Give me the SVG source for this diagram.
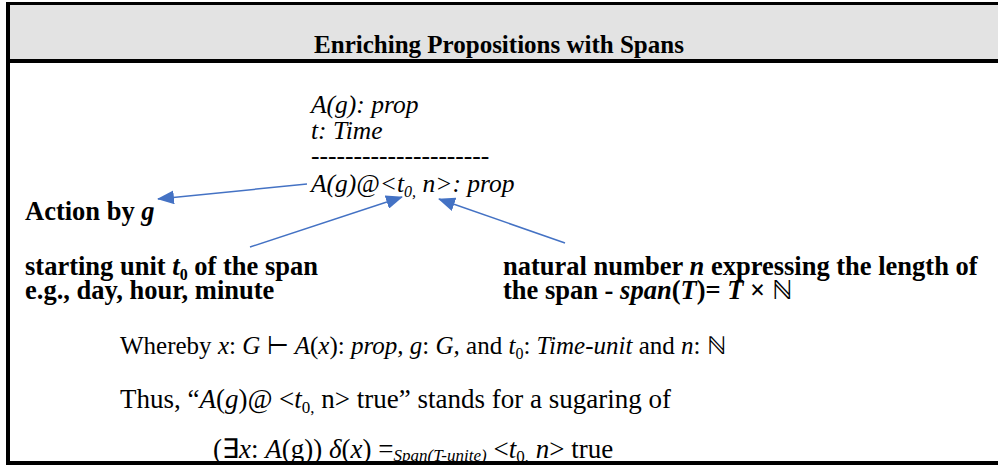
<svg xmlns="http://www.w3.org/2000/svg" width="998" height="466" viewBox="0 0 998 466">
<style>
.t{font-family:"Liberation Serif","Times New Roman",serif;fill:#000}
.r{font-size:25px}
.l{font-size:27px}
.b{font-size:26.5px;font-weight:bold}
.h{font-size:25px;font-weight:bold}
.f{font-size:25.5px}
.i{font-style:italic}
.s{font-size:16px}
.s2{font-size:17px}
.con{stroke:#4472C4;stroke-width:1.5;fill:none;marker-end:url(#ah)}
</style>
<defs>
<marker id="ah" markerUnits="userSpaceOnUse" markerWidth="18" markerHeight="14" refX="16" refY="7" orient="auto">
<path d="M0,0 L17,7 L0,14 z" fill="#4472C4"/>
</marker>
</defs>
<rect x="0" y="0" width="998" height="466" fill="#fff"/>
<g id="frame">
<rect x="10" y="5" width="988" height="54" fill="#E3E3E3"/>
<rect x="6" y="2" width="992" height="3" fill="#000"/>
<rect x="6" y="2" width="4" height="463" fill="#000"/>
<rect x="6" y="59" width="992" height="4" fill="#000"/>
<rect x="6" y="461" width="992" height="4" fill="#000"/>
</g>
<g id="title"><text class="t h" x="499" y="53" text-anchor="middle">Enriching Propositions with Spans</text></g>
<g id="formula">
<text class="t f i" x="311" y="113">A(g): prop</text>
<text class="t f i" x="311" y="139">t: Time</text>
<text class="t f" x="311" y="164">---------------------</text>
<text class="t f i" x="311" y="192">A(g)@&lt;t<tspan class="s" dy="5">0,</tspan><tspan dy="-5"> n&gt;: prop</tspan></text>
</g>
<g id="action"><text class="t b" x="25" y="220">Action by <tspan class="i">g</tspan></text></g>
<g id="start">
<text class="t b" x="25" y="275">starting unit <tspan class="i">t</tspan><tspan class="s" dy="5">0</tspan><tspan dy="-5"> of the span</tspan></text>
<text class="t b" x="25" y="299">e.g., day, hour, minute</text>
</g>
<g id="natural">
<text class="t b" x="503" y="275">natural number <tspan class="i">n</tspan> expressing the length of</text>
<text class="t b" x="503" y="299">the span - <tspan class="i">span</tspan>(<tspan class="i">T</tspan>)= <tspan class="i">T</tspan> × <tspan font-weight="normal">ℕ</tspan></text>
</g>
<g id="whereby"><text class="t r" x="120" y="354">Whereby <tspan class="i">x</tspan>: <tspan class="i">G</tspan> ⊢ <tspan class="i">A</tspan>(<tspan class="i">x</tspan>): <tspan class="i">prop, g</tspan>: <tspan class="i">G,</tspan> and <tspan class="i">t</tspan><tspan class="s" dy="5">0</tspan><tspan dy="-5">: </tspan><tspan class="i">Time-unit</tspan> and <tspan class="i">n</tspan>: ℕ</text></g>
<g id="thus"><text class="t l" x="120" y="408">Thus, “<tspan class="i">A</tspan>(<tspan class="i">g</tspan>)<tspan class="i">@</tspan> &lt;<tspan class="i">t</tspan><tspan class="s2" dy="5">0,</tspan><tspan dy="-5"> n&gt; true” stands for a sugaring of</tspan></text></g>
<g id="exists"><text class="t l" x="213" y="458">(∃<tspan class="i">x</tspan>: <tspan class="i">A</tspan>(g)) <tspan class="i">δ</tspan>(<tspan class="i">x</tspan>) =<tspan class="s2 i" dy="3">Span(T-unite)</tspan><tspan dy="-3"> &lt;</tspan><tspan class="i">t</tspan><tspan class="s2" dy="4">0,</tspan><tspan dy="-4"> </tspan><tspan class="i">n</tspan>&gt; true</text></g>
<g id="connectors">
<line class="con" x1="307" y1="184" x2="158" y2="199"/>
<line class="con" x1="250" y1="247" x2="402" y2="197"/>
<line class="con" x1="565" y1="243" x2="439" y2="199"/>
</g>
</svg>
